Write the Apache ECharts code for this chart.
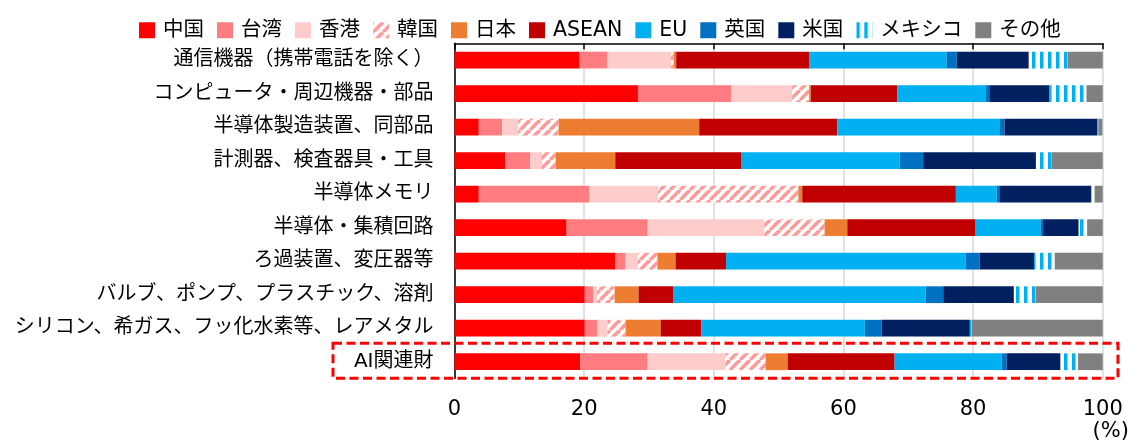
<!DOCTYPE html>
<html>
<head>
<meta charset="utf-8">
<script src="https://cdn.jsdelivr.net/npm/echarts@6/dist/echarts.min.js"></script>
<style>
html,body{margin:0;padding:0;background:#fff;}
#chart{width:1138px;height:447px;}
</style>
</head>
<body>
<div id="chart"></div>
<script>
const categories = ['通信機器（携帯電話を除く）','コンピュータ・周辺機器・部品','半導体製造装置、同部品','計測器、検査器具・工具','半導体メモリ','半導体・集積回路','ろ過装置、変圧器等','バルブ、ポンプ、プラスチック、溶剤','シリコン、希ガス、フッ化水素等、レアメタル','AI関連財'];
const seriesNames = ['中国','台湾','香港','韓国','日本','ASEAN','EU','英国','米国','メキシコ','その他'];
const china    = [19.3, 28.3, 3.75, 7.8, 3.75, 17.3, 24.8, 20.1, 20.1, 19.4];
const taiwan   = [4.3, 14.4, 3.6, 3.9, 17.0, 12.5, 1.5, 1.3, 1.9, 10.4];
const hongkong = [9.8, 9.4, 2.5, 1.8, 10.7, 18.0, 2.0, 0.6, 1.6, 12.0];
const korea    = [0.4, 2.6, 6.2, 2.1, 21.6, 9.3, 3.0, 2.7, 2.8, 6.2];
const japan    = [0.4, 0.3, 21.7, 9.2, 0.6, 3.5, 2.8, 3.7, 5.4, 3.4];
const asean    = [20.5, 13.3, 21.3, 19.5, 23.7, 19.7, 7.8, 5.4, 6.3, 16.5];
const eu       = [21.2, 13.6, 25.0, 24.4, 6.3, 10.1, 37.0, 38.9, 25.2, 16.5];
const uk       = [1.6, 0.6, 0.8, 3.6, 0.4, 0.4, 2.1, 2.7, 2.6, 0.8];
const us       = [11.1, 9.3, 14.3, 17.4, 14.2, 5.5, 8.4, 10.9, 13.6, 8.3];
const mexico   = [6.0, 5.7, 0.2, 2.4, 0.5, 1.3, 3.2, 3.4, 0.3, 2.7];
const other    = [5.4, 2.5, 0.6, 7.9, 1.25, 2.4, 7.4, 10.3, 20.2, 3.8];
const xTicks = [0, 20, 40, 60, 80, 100];

function hatchPattern() {
  const c = document.createElement('canvas');
  c.width = 10; c.height = 10;
  const g = c.getContext('2d');
  g.fillStyle = '#ffffff'; g.fillRect(0,0,10,10);
  g.strokeStyle = '#FF9A9A'; g.lineWidth = 3.6;
  for (let k = -1; k <= 1; k++) {
    g.beginPath(); g.moveTo(k*10, 10); g.lineTo(k*10+10, 0); g.stroke();
  }
  return {image: c, repeat: 'repeat'};
}
function stripePattern() {
  const c = document.createElement('canvas');
  c.width = 8; c.height = 8;
  const g = c.getContext('2d');
  g.fillStyle = '#ffffff'; g.fillRect(0,0,8,8);
  g.fillStyle = '#00B0F0'; g.fillRect(0,0,3.5,8);
  return {image: c, repeat: 'repeat'};
}

const values = [china, taiwan, hongkong, korea, japan, asean, eu, uk, us, mexico, other];
const colors = ['#FF0000','#FF7C80','#FFCCCC',hatchPattern(),'#ED7D31','#C00000','#00B0F0','#0070C0','#002060',stripePattern(),'#808080'];
const FONT = '"DejaVu Sans", "Noto Sans CJK JP", sans-serif';

const chart = echarts.init(document.getElementById('chart'), null, {renderer: 'canvas'});
const option = {
  animation: false,
  textStyle: {fontFamily: FONT},
  legend: {
    left: 134, top: 15,
    itemWidth: 16, itemHeight: 16, itemGap: 13,
    icon: 'rect',
    textStyle: {fontSize: 20.5, color: '#000', fontFamily: FONT, padding: [0,0,0,3]},
    data: seriesNames
  },
  grid: {left: 454.5, right: 35.3, top: 43.3, bottom: 68.5, containLabel: false},
  xAxis: [
    {
      type: 'value', position: 'top', min: 0, max: 100, interval: 20,
      axisLine: {show: true, lineStyle: {color: '#000', width: 1.5}},
      axisTick: {show: true, inside: true, length: 6, lineStyle: {color: '#000', width: 1.5}},
      axisLabel: {show: false},
      splitLine: {show: true, lineStyle: {color: '#D9D9D9', width: 1.5}}
    },
    {
      type: 'value', position: 'bottom', min: 0, max: 100, interval: 20,
      axisLine: {show: false}, axisTick: {show: false},
      splitLine: {show: false},
      axisLabel: {show: true, fontSize: 21, color: '#000', margin: 21, fontFamily: FONT,
        formatter: v => xTicks.indexOf(v) >= 0 ? String(v) : ''}
    }
  ],
  yAxis: {
    type: 'category', inverse: true, data: categories,
    axisLine: {show: true, lineStyle: {color: '#000', width: 1.5}},
    axisTick: {show: false},
    axisLabel: {fontSize: 20, color: '#000', margin: 21, fontFamily: FONT},
    splitLine: {show: false}
  },
  series: seriesNames.map((n, i) => ({
    name: n, type: 'bar', stack: 'total', xAxisIndex: 0,
    barWidth: '50%', data: values[i],
    itemStyle: {color: colors[i]},
    emphasis: {disabled: true}
  }))
};
chart.setOption(option);

const lastCat = categories[categories.length - 1];
const yc = chart.convertToPixel({yAxisIndex: 0}, lastCat);
const x100 = chart.convertToPixel({xAxisIndex: 1}, 100);
chart.setOption({
  graphic: [
    {
      type: 'rect', z: 100,
      shape: {x: 333, y: yc - 18.5, width: 1118 - 333, height: 35},
      style: {fill: 'none', stroke: '#FF0000', lineWidth: 3, lineDash: [9, 4.5]}
    },
    {
      type: 'text', z: 100,
      x: x100 + 8, y: 432,
      style: {text: '(%)', fontSize: 21, fill: '#000', fontFamily: FONT, align: 'center', verticalAlign: 'middle'}
    }
  ]
});
</script>
</body>
</html>
